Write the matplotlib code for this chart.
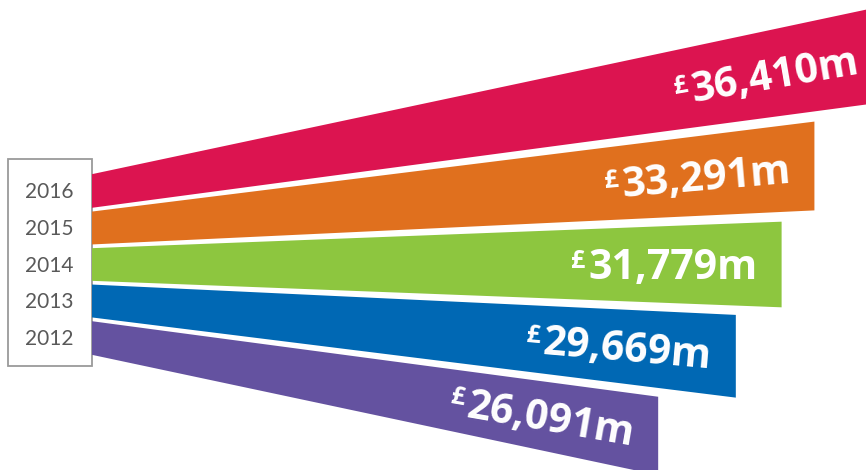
import numpy as np
import matplotlib
matplotlib.use("Agg")
import matplotlib.pyplot as plt
from matplotlib.patches import Polygon, Rectangle
from matplotlib.font_manager import FontProperties

# data
years = ["2016", "2015", "2014", "2013", "2012"]
values = [36410, 33291, 31779, 29669, 26091]  # £m
colors = ["#DC1450", "#E0701E", "#8DC63F", "#0068B4", "#6452A0"]

W, H, DPI = 866, 470, 100
PX_PER_M = 0.0217      # pixels per £m
ORIGIN = 92            # pixel column where bars start
FOCUS = 425            # fan focal distance left of origin (px)
YC = 264.5             # fan centre row
STEP = 4.9             # degrees between bars
HALF = 2.2             # half angular width of a bar

fig = plt.figure(figsize=(W / DPI, H / DPI), dpi=DPI)
ax = fig.add_axes([0, 0, 1, 1])
ax.set_xlim(-ORIGIN / PX_PER_M, (W - ORIGIN) / PX_PER_M)
ax.set_ylim(H, 0)
ax.axis("off")


def fan_y(x, ang):
    """row of a fan ray at data x for angle ang (deg, positive = downward)"""
    return YC + np.tan(np.radians(ang)) * (x * PX_PER_M + FOCUS)


# label box
ax.add_patch(Rectangle((-84 / PX_PER_M, 159), 84 / PX_PER_M, 207,
                       facecolor="white", edgecolor="#9a9a9a", lw=1.3, zorder=1))

num_font = FontProperties(family="Open Sans", weight="bold", size=29.5)
pound_font = FontProperties(family="Open Sans", weight="bold", size=18)
renderer = fig.canvas.get_renderer()
cap = 29.5 * DPI / 72 * 0.714  # digit height in px

for i, (yr, v, c) in enumerate(zip(years, values, colors)):
    a = (i - 2) * STEP
    xs = [0, v, v, 0]
    ys = [fan_y(0, a - HALF), fan_y(v, a - HALF), fan_y(v, a + HALF), fan_y(0, a + HALF)]
    ax.add_patch(Polygon(list(zip(xs, ys)), closed=True, facecolor=c,
                         edgecolor="none", zorder=2))

    # year label in the box
    ax.text(-42.5 / PX_PER_M, fan_y(0, a) + 1, yr, ha="center", va="center",
            fontsize=15, family="Lato", color="#595959", zorder=3)

    # value label along the bar
    xr = v - 24 / PX_PER_M
    yr_ = fan_y(xr, a)
    rot = -a
    r = np.radians(rot)
    u = np.array([np.cos(r), np.sin(r)])
    n = np.array([-np.sin(r), np.cos(r)])
    s = f"{v:,}m"
    w, _, _ = renderer.get_text_width_height_descent(s, num_font, ismath=False)
    off = n * (-cap / 2) * 72 / DPI
    ax.annotate(s, (xr, yr_), xytext=off, textcoords="offset points",
                ha="right", va="baseline", rotation=rot, rotation_mode="anchor",
                fontproperties=num_font, color="white", zorder=4)
    off2 = (-u * (w + 3) + n * (-cap / 2 + 11)) * 72 / DPI
    ax.annotate("£", (xr, yr_), xytext=off2, textcoords="offset points",
                ha="right", va="baseline", rotation=rot, rotation_mode="anchor",
                fontproperties=pound_font, color="white", zorder=4)

fig.savefig("out.png", dpi=DPI, facecolor="white")
